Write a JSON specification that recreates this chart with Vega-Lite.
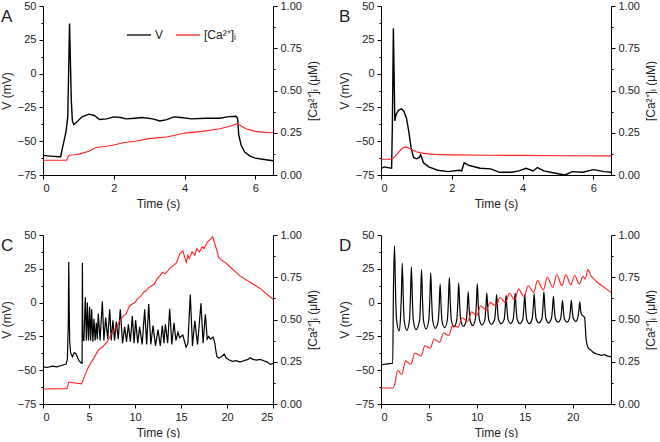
{
"$schema":"https://vega.github.io/schema/vega-lite/v6.json",
"padding":{"left":0,"top":0,"right":0,"bottom":0},
"background":"white",
"bounds":"flush",
"columns":2,
"spacing":{"row":60,"column":108},
"config":{
 "font":"Liberation Sans",
 "view":{"stroke":null},
 "axis":{"grid":false,"domainColor":"black","tickColor":"black","domainWidth":1,"tickWidth":1,"labelFont":"Liberation Sans","labelFontSize":11,"labelColor":"#222","titleFont":"Liberation Sans","titleFontSize":12,"titleFontWeight":"normal","titleColor":"#222","labelPadding":3},
 "axisLeft":{"titlePadding":4},
 "axisRight":{"titlePadding":6},
 "axisBottom":{"titlePadding":5},
 "title":{"font":"Liberation Sans","fontSize":17,"fontWeight":"normal","color":"#222","anchor":"start","frame":"group"}
},
"datasets":{
"A_V":[{"t":0,"v":-60.5},{"t":0.2,"v":-61},{"t":0.45,"v":-61.5},{"t":0.5,"v":-61.5},{"t":0.55,"v":-55},{"t":0.6,"v":-49},{"t":0.65,"v":-43},{"t":0.7,"v":-32},{"t":0.72,"v":-5},{"t":0.75,"v":37},{"t":0.77,"v":15},{"t":0.8,"v":-20},{"t":0.83,"v":-35},{"t":0.87,"v":-37.5},{"t":0.95,"v":-36},{"t":1.1,"v":-32},{"t":1.3,"v":-30},{"t":1.45,"v":-31},{"t":1.6,"v":-34},{"t":1.8,"v":-33.5},{"t":2.0,"v":-32},{"t":2.2,"v":-32.5},{"t":2.35,"v":-33.5},{"t":2.6,"v":-33},{"t":2.8,"v":-32.5},{"t":3.1,"v":-33.5},{"t":3.3,"v":-35},{"t":3.5,"v":-34},{"t":3.7,"v":-32},{"t":3.9,"v":-32.5},{"t":4.2,"v":-33.5},{"t":4.6,"v":-33},{"t":5.0,"v":-33},{"t":5.2,"v":-32},{"t":5.45,"v":-31.5},{"t":5.5,"v":-33},{"t":5.53,"v":-45},{"t":5.6,"v":-53},{"t":5.7,"v":-58},{"t":5.85,"v":-61},{"t":6.0,"v":-62.5},{"t":6.25,"v":-63.5},{"t":6.5,"v":-64.5}],
"A_Ca":[{"t":0,"ca":0.087},{"t":0.67,"ca":0.087},{"t":0.7,"ca":0.105},{"t":0.75,"ca":0.118},{"t":0.9,"ca":0.12},{"t":1.05,"ca":0.125},{"t":1.3,"ca":0.14},{"t":1.5,"ca":0.163},{"t":1.8,"ca":0.17},{"t":2.0,"ca":0.178},{"t":2.3,"ca":0.192},{"t":2.6,"ca":0.2},{"t":3.0,"ca":0.215},{"t":3.5,"ca":0.225},{"t":3.8,"ca":0.238},{"t":4.0,"ca":0.248},{"t":4.5,"ca":0.258},{"t":5.0,"ca":0.274},{"t":5.3,"ca":0.29},{"t":5.5,"ca":0.304},{"t":5.6,"ca":0.29},{"t":5.75,"ca":0.272},{"t":6.0,"ca":0.258},{"t":6.25,"ca":0.252},{"t":6.5,"ca":0.25}],
"B_V":[{"t":0,"v":-70},{"t":0.1,"v":-69},{"t":0.2,"v":-69.5},{"t":0.3,"v":-70},{"t":0.32,"v":-40},{"t":0.35,"v":33.5},{"t":0.37,"v":0},{"t":0.39,"v":-35},{"t":0.43,"v":-30},{"t":0.5,"v":-27},{"t":0.58,"v":-26},{"t":0.65,"v":-28},{"t":0.72,"v":-33},{"t":0.78,"v":-42},{"t":0.85,"v":-55},{"t":0.92,"v":-62},{"t":1.0,"v":-63},{"t":1.08,"v":-62},{"t":1.12,"v":-60},{"t":1.2,"v":-66},{"t":1.35,"v":-69},{"t":1.6,"v":-71.5},{"t":1.9,"v":-72.5},{"t":2.2,"v":-71.5},{"t":2.28,"v":-72},{"t":2.35,"v":-66},{"t":2.5,"v":-68},{"t":2.8,"v":-70},{"t":3.1,"v":-70.5},{"t":3.35,"v":-73},{"t":3.7,"v":-73},{"t":3.9,"v":-72},{"t":4.1,"v":-70},{"t":4.3,"v":-72},{"t":4.42,"v":-69.5},{"t":4.6,"v":-72},{"t":4.9,"v":-73.5},{"t":5.2,"v":-75},{"t":5.4,"v":-72.5},{"t":5.7,"v":-73},{"t":6.0,"v":-71},{"t":6.3,"v":-72.5},{"t":6.5,"v":-73}],
"B_Ca":[{"t":0,"ca":0.093},{"t":0.3,"ca":0.093},{"t":0.4,"ca":0.11},{"t":0.5,"ca":0.135},{"t":0.6,"ca":0.158},{"t":0.7,"ca":0.166},{"t":0.8,"ca":0.158},{"t":0.9,"ca":0.146},{"t":1.0,"ca":0.138},{"t":1.2,"ca":0.128},{"t":1.5,"ca":0.122},{"t":2.0,"ca":0.119},{"t":3.0,"ca":0.117},{"t":4.0,"ca":0.116},{"t":5.0,"ca":0.114},{"t":6.5,"ca":0.113}],
"C_V":[{"t":0,"v":-47.5},{"t":0.5,"v":-48},{"t":1.0,"v":-47},{"t":1.5,"v":-47.5},{"t":2.0,"v":-46.5},{"t":2.5,"v":-45.5},{"t":2.65,"v":-42},{"t":2.75,"v":-15},{"t":2.8,"v":30},{"t":2.85,"v":-5},{"t":2.9,"v":-28},{"t":3.0,"v":-37},{"t":3.2,"v":-40},{"t":3.4,"v":-37},{"t":3.6,"v":-38},{"t":3.9,"v":-43},{"t":4.2,"v":-45},{"t":4.25,"v":-45},{"t":4.28,"v":29.5},{"t":4.33,"v":-28},{"t":4.45,"v":-28},{"t":4.6,"v":4},{"t":4.72,"v":-28},{"t":4.82,"v":0},{"t":4.95,"v":-28},{"t":5.07,"v":-3},{"t":5.18,"v":-28},{"t":5.29,"v":-5},{"t":5.42,"v":-29},{"t":5.54,"v":-12},{"t":5.67,"v":-28},{"t":5.8,"v":-15},{"t":5.9,"v":-27},{"t":6.01,"v":-8},{"t":6.2,"v":-28},{"t":6.45,"v":1},{"t":6.62,"v":-28},{"t":6.81,"v":-11},{"t":7.03,"v":-27},{"t":7.25,"v":-5},{"t":7.42,"v":-28},{"t":7.6,"v":-13},{"t":7.78,"v":-28},{"t":7.97,"v":-14},{"t":8.18,"v":-27},{"t":8.4,"v":-5},{"t":8.65,"v":-30},{"t":8.88,"v":-18},{"t":9.08,"v":-29},{"t":9.28,"v":-16},{"t":9.5,"v":-29},{"t":9.71,"v":-10},{"t":9.9,"v":-30},{"t":10.07,"v":-13},{"t":10.3,"v":-30},{"t":10.5,"v":-18},{"t":10.78,"v":-31},{"t":11.05,"v":-5},{"t":11.27,"v":-31},{"t":11.49,"v":-1},{"t":11.72,"v":-31},{"t":11.96,"v":-17},{"t":12.23,"v":-32},{"t":12.5,"v":-20},{"t":12.75,"v":-32},{"t":12.97,"v":-17},{"t":13.15,"v":-30},{"t":13.3,"v":-16},{"t":13.55,"v":-30},{"t":13.77,"v":-4.5},{"t":14.0,"v":-31},{"t":14.24,"v":-15},{"t":14.45,"v":-28},{"t":14.67,"v":-22},{"t":14.85,"v":-26},{"t":15.0,"v":-25},{"t":15.2,"v":-24},{"t":15.35,"v":-28},{"t":15.55,"v":-33},{"t":15.75,"v":-30},{"t":16.01,"v":6},{"t":16.25,"v":-32},{"t":16.5,"v":-13.5},{"t":16.8,"v":-31},{"t":17.17,"v":-0.5},{"t":17.4,"v":-30},{"t":17.65,"v":-8.6},{"t":17.85,"v":-27},{"t":18.0,"v":-25},{"t":18.2,"v":-27},{"t":18.48,"v":-25.5},{"t":18.65,"v":-29},{"t":18.77,"v":-34.6},{"t":18.9,"v":-40},{"t":19.1,"v":-41},{"t":19.4,"v":-40},{"t":19.7,"v":-38},{"t":19.9,"v":-41},{"t":20.25,"v":-42.5},{"t":20.6,"v":-43.5},{"t":21.0,"v":-43},{"t":21.4,"v":-44},{"t":21.8,"v":-43},{"t":22.3,"v":-42},{"t":22.5,"v":-40.8},{"t":22.8,"v":-42},{"t":23.2,"v":-42.5},{"t":23.6,"v":-42},{"t":24.0,"v":-43},{"t":24.4,"v":-44},{"t":24.7,"v":-45.7},{"t":25,"v":-45}],
"C_Ca":[{"t":0,"ca":0.089},{"t":2.6,"ca":0.091},{"t":2.8,"ca":0.13},{"t":3.0,"ca":0.128},{"t":3.5,"ca":0.124},{"t":4.2,"ca":0.119},{"t":4.4,"ca":0.15},{"t":4.7,"ca":0.19},{"t":5.0,"ca":0.225},{"t":5.5,"ca":0.27},{"t":6.0,"ca":0.317},{"t":6.5,"ca":0.34},{"t":7.0,"ca":0.37},{"t":7.6,"ca":0.43},{"t":8.0,"ca":0.45},{"t":8.3,"ca":0.49},{"t":8.7,"ca":0.52},{"t":9.0,"ca":0.53},{"t":9.4,"ca":0.58},{"t":9.8,"ca":0.595},{"t":10.0,"ca":0.6},{"t":10.3,"ca":0.625},{"t":10.6,"ca":0.635},{"t":10.9,"ca":0.66},{"t":11.2,"ca":0.67},{"t":11.5,"ca":0.69},{"t":11.8,"ca":0.7},{"t":12.1,"ca":0.71},{"t":12.4,"ca":0.74},{"t":12.7,"ca":0.758},{"t":13.0,"ca":0.78},{"t":13.3,"ca":0.77},{"t":13.6,"ca":0.79},{"t":13.9,"ca":0.81},{"t":14.2,"ca":0.82},{"t":14.5,"ca":0.835},{"t":14.86,"ca":0.887},{"t":15.2,"ca":0.907},{"t":15.57,"ca":0.838},{"t":15.75,"ca":0.88},{"t":15.9,"ca":0.86},{"t":16.2,"ca":0.9},{"t":16.5,"ca":0.88},{"t":16.7,"ca":0.92},{"t":17.0,"ca":0.9},{"t":17.3,"ca":0.93},{"t":17.5,"ca":0.92},{"t":17.9,"ca":0.96},{"t":18.3,"ca":0.98},{"t":18.45,"ca":0.99},{"t":18.6,"ca":0.96},{"t":18.85,"ca":0.917},{"t":19.1,"ca":0.867},{"t":19.4,"ca":0.85},{"t":19.8,"ca":0.838},{"t":20.2,"ca":0.818},{"t":21.4,"ca":0.758},{"t":22.5,"ca":0.72},{"t":23.7,"ca":0.68},{"t":25,"ca":0.62}],
"D_V":[{"t":0,"v":-46},{"t":0.5,"v":-45.5},{"t":1.1,"v":-45},{"t":1.22,"v":-45},{"t":1.3,"v":10},{"t":1.41,"v":42},{"t":1.51,"v":10.5},{"t":1.61,"v":-11.5},{"t":1.89,"v":-21},{"t":2.02,"v":-13.1},{"t":2.12,"v":4.25},{"t":2.22,"v":29},{"t":2.32,"v":4.25},{"t":2.42,"v":-13.1},{"t":2.7,"v":-20.5},{"t":2.97,"v":-13},{"t":3.07,"v":3.25},{"t":3.17,"v":26.5},{"t":3.27,"v":3.25},{"t":3.37,"v":-13},{"t":3.65,"v":-20},{"t":4.03,"v":-12.9},{"t":4.13,"v":2.5},{"t":4.23,"v":24.5},{"t":4.33,"v":2.5},{"t":4.43,"v":-12.9},{"t":4.71,"v":-19.5},{"t":4.99,"v":-12.85},{"t":5.09,"v":1.5},{"t":5.19,"v":22},{"t":5.29,"v":1.5},{"t":5.39,"v":-12.85},{"t":5.67,"v":-19},{"t":5.97,"v":-13.7},{"t":6.07,"v":-2.45},{"t":6.17,"v":13.6},{"t":6.27,"v":-2.45},{"t":6.37,"v":-13.7},{"t":6.65,"v":-18.5},{"t":6.93,"v":-12.5},{"t":7.03,"v":0.3},{"t":7.13,"v":18.6},{"t":7.23,"v":0.3},{"t":7.33,"v":-12.5},{"t":7.61,"v":-18},{"t":7.91,"v":-12.7},{"t":8.01,"v":-1.45},{"t":8.11,"v":14.6},{"t":8.21,"v":-1.45},{"t":8.31,"v":-12.7},{"t":8.59,"v":-17.5},{"t":8.9,"v":-13.25},{"t":9.0,"v":-4.5},{"t":9.1,"v":8},{"t":9.2,"v":-4.5},{"t":9.3,"v":-13.25},{"t":9.58,"v":-17},{"t":9.85,"v":-11.9},{"t":9.95,"v":-1.25},{"t":10.05,"v":14},{"t":10.15,"v":-1.25},{"t":10.25,"v":-11.9},{"t":10.53,"v":-16.5},{"t":10.84,"v":-12.55},{"t":10.94,"v":-4.5},{"t":11.04,"v":7},{"t":11.14,"v":-4.5},{"t":11.24,"v":-12.55},{"t":11.52,"v":-16},{"t":11.86,"v":-12.3},{"t":11.96,"v":-4.75},{"t":12.06,"v":6},{"t":12.16,"v":-4.75},{"t":12.26,"v":-12.3},{"t":12.54,"v":-15.5},{"t":12.85,"v":-12.4},{"t":12.95,"v":-5.05},{"t":13.05,"v":5.4},{"t":13.15,"v":-5.05},{"t":13.25,"v":-12.4},{"t":13.53,"v":-15.5},{"t":13.8,"v":-12.1},{"t":13.9,"v":-4.25},{"t":14.0,"v":7},{"t":14.1,"v":-4.25},{"t":14.2,"v":-12.1},{"t":14.48,"v":-15.5},{"t":14.8,"v":-12.3},{"t":14.9,"v":-4.75},{"t":15.0,"v":6},{"t":15.1,"v":-4.75},{"t":15.2,"v":-12.3},{"t":15.48,"v":-15.5},{"t":15.78,"v":-11.75},{"t":15.88,"v":-4.15},{"t":15.98,"v":6.7},{"t":16.08,"v":-4.15},{"t":16.18,"v":-11.75},{"t":16.46,"v":-15},{"t":16.8,"v":-11.55},{"t":16.9,"v":-3.5},{"t":17.0,"v":8},{"t":17.1,"v":-3.5},{"t":17.2,"v":-11.55},{"t":17.48,"v":-15},{"t":17.79,"v":-11.6},{"t":17.89,"v":-4.9},{"t":17.99,"v":4.7},{"t":18.09,"v":-4.9},{"t":18.19,"v":-11.6},{"t":18.47,"v":-14.5},{"t":18.74,"v":-12.1},{"t":18.84,"v":-6.4},{"t":18.94,"v":1.7},{"t":19.04,"v":-6.4},{"t":19.14,"v":-12.1},{"t":19.42,"v":-14.5},{"t":19.66,"v":-11.65},{"t":19.76,"v":-6.15},{"t":19.86,"v":1.7},{"t":19.96,"v":-6.15},{"t":20.06,"v":-11.65},{"t":20.34,"v":-14},{"t":20.54,"v":-11},{"t":20.64,"v":-6.25},{"t":20.74,"v":0.5},{"t":20.84,"v":-6.25},{"t":20.94,"v":-9},{"t":21.1,"v":-10},{"t":21.25,"v":-11},{"t":21.32,"v":-18},{"t":21.42,"v":-28},{"t":21.6,"v":-33},{"t":21.85,"v":-35},{"t":22.1,"v":-36.5},{"t":22.5,"v":-38},{"t":22.8,"v":-38.5},{"t":23.0,"v":-39},{"t":23.3,"v":-38.5},{"t":23.6,"v":-39.5},{"t":24.0,"v":-40}],
"D_Ca":[{"t":0,"ca":0.095},{"t":1.2,"ca":0.095},{"t":1.4,"ca":0.11},{"t":1.75,"ca":0.2},{"t":2.17,"ca":0.175},{"t":2.57,"ca":0.255},{"t":3.12,"ca":0.235},{"t":3.52,"ca":0.3},{"t":4.18,"ca":0.285},{"t":4.58,"ca":0.345},{"t":5.14,"ca":0.33},{"t":5.54,"ca":0.385},{"t":6.12,"ca":0.365},{"t":6.52,"ca":0.42},{"t":7.08,"ca":0.405},{"t":7.48,"ca":0.465},{"t":8.06,"ca":0.455},{"t":8.46,"ca":0.51},{"t":9.05,"ca":0.49},{"t":9.45,"ca":0.545},{"t":10.0,"ca":0.525},{"t":10.4,"ca":0.58},{"t":10.99,"ca":0.555},{"t":11.39,"ca":0.6},{"t":12.01,"ca":0.58},{"t":12.41,"ca":0.63},{"t":13.0,"ca":0.6},{"t":13.4,"ca":0.655},{"t":13.95,"ca":0.615},{"t":14.35,"ca":0.68},{"t":14.95,"ca":0.635},{"t":15.35,"ca":0.7},{"t":15.93,"ca":0.66},{"t":16.33,"ca":0.73},{"t":16.95,"ca":0.675},{"t":17.35,"ca":0.75},{"t":17.94,"ca":0.69},{"t":18.34,"ca":0.765},{"t":18.89,"ca":0.7},{"t":19.29,"ca":0.765},{"t":19.81,"ca":0.705},{"t":20.21,"ca":0.76},{"t":20.69,"ca":0.71},{"t":21.09,"ca":0.755},{"t":21.3,"ca":0.74},{"t":21.6,"ca":0.795},{"t":21.9,"ca":0.76},{"t":22.3,"ca":0.735},{"t":22.8,"ca":0.71},{"t":23.3,"ca":0.69},{"t":24.0,"ca":0.66}]
},
"concat":[
 {"width":230,"height":169,"title":{"text":"A","dx":-42,"dy":30},
  "layer":[
   {"data":{"name":"A_V"},"mark":{"type":"line","strokeWidth":1.4},
    "encoding":{"x":{"field":"t","type":"quantitative","scale":{"domain":[0,6.5],"nice":false},"axis":{"values":[0,0.5,1,1.5,2,2.5,3,3.5,4,4.5,5,5.5,6,6.5],"labelExpr":"datum.value % 1 === 0 ? datum.label : ''","tickSize":{"condition":{"test":"datum.value % 1 === 0","value":4},"value":2},"title":"Time (s)"}},
     "y":{"field":"v","type":"quantitative","scale":{"domain":[-75,50],"nice":false},"axis":{"values":[-75,-62.5,-50,-37.5,-25,-12.5,0,12.5,25,37.5,50],"labelExpr":"datum.value % 25 === 0 ? datum.label : ''","tickSize":{"condition":{"test":"datum.value % 25 === 0","value":4},"value":2},"title":"V (mV)"}},
     "color":{"datum":"V","type":"nominal","scale":{"domain":["V","[Ca²⁺]ᵢ"],"range":["black","#ff2020"]},"legend":{"orient":"none","legendX":83,"legendY":16,"direction":"horizontal","title":null,"symbolType":"stroke","symbolSize":576,"symbolStrokeWidth":1.3,"labelFontSize":12,"labelFont":"Liberation Sans","labelColor":"#222","columnPadding":9,"labelOffset":3}}}},
   {"data":{"name":"A_Ca"},"mark":{"type":"line","strokeWidth":1.1},
    "encoding":{"x":{"field":"t","type":"quantitative"},
     "y":{"field":"ca","type":"quantitative","scale":{"domain":[0,1],"nice":false},"axis":{"orient":"right","values":[0,0.125,0.25,0.375,0.5,0.625,0.75,0.875,1],"format":".2f","labelExpr":"(datum.value*4) % 1 === 0 ? datum.label : ''","tickSize":{"condition":{"test":"(datum.value*4) % 1 === 0","value":4},"value":2},"title":"[Ca²⁺]ᵢ (μM)","titleAngle":-90,"titleBaseline":"top"}},
     "color":{"datum":"[Ca²⁺]ᵢ","type":"nominal"}}}
  ],
  "resolve":{"scale":{"y":"independent"}}},
 {"width":230,"height":169,"title":{"text":"B","dx":-42,"dy":30},
  "layer":[
   {"data":{"name":"B_V"},"mark":{"type":"line","strokeWidth":1.4,"color":"black"},
    "encoding":{"x":{"field":"t","type":"quantitative","scale":{"domain":[0,6.5],"nice":false},"axis":{"values":[0,0.5,1,1.5,2,2.5,3,3.5,4,4.5,5,5.5,6,6.5],"labelExpr":"datum.value % 1 === 0 ? datum.label : ''","tickSize":{"condition":{"test":"datum.value % 1 === 0","value":4},"value":2},"title":"Time (s)"}},
     "y":{"field":"v","type":"quantitative","scale":{"domain":[-75,50],"nice":false},"axis":{"values":[-75,-62.5,-50,-37.5,-25,-12.5,0,12.5,25,37.5,50],"labelExpr":"datum.value % 25 === 0 ? datum.label : ''","tickSize":{"condition":{"test":"datum.value % 25 === 0","value":4},"value":2},"title":"V (mV)"}}}},
   {"data":{"name":"B_Ca"},"mark":{"type":"line","strokeWidth":1.1,"color":"#ff2020"},
    "encoding":{"x":{"field":"t","type":"quantitative"},
     "y":{"field":"ca","type":"quantitative","scale":{"domain":[0,1],"nice":false},"axis":{"orient":"right","values":[0,0.125,0.25,0.375,0.5,0.625,0.75,0.875,1],"format":".2f","labelExpr":"(datum.value*4) % 1 === 0 ? datum.label : ''","tickSize":{"condition":{"test":"(datum.value*4) % 1 === 0","value":4},"value":2},"title":"[Ca²⁺]ᵢ (μM)","titleAngle":-90,"titleBaseline":"top"}}}}
  ],
  "resolve":{"scale":{"y":"independent"}}},
 {"width":230,"height":169,"title":{"text":"C","dx":-42,"dy":30},
  "layer":[
   {"data":{"name":"C_V"},"mark":{"type":"line","strokeWidth":1.2,"color":"black"},
    "encoding":{"x":{"field":"t","type":"quantitative","scale":{"domain":[0,25],"nice":false},"axis":{"values":[0,2.5,5,7.5,10,12.5,15,17.5,20,22.5,25],"labelExpr":"datum.value % 5 === 0 ? datum.label : ''","tickSize":{"condition":{"test":"datum.value % 5 === 0","value":4},"value":2},"title":"Time (s)"}},
     "y":{"field":"v","type":"quantitative","scale":{"domain":[-75,50],"nice":false},"axis":{"values":[-75,-62.5,-50,-37.5,-25,-12.5,0,12.5,25,37.5,50],"labelExpr":"datum.value % 25 === 0 ? datum.label : ''","tickSize":{"condition":{"test":"datum.value % 25 === 0","value":4},"value":2},"title":"V (mV)"}}}},
   {"data":{"name":"C_Ca"},"mark":{"type":"line","strokeWidth":1.1,"color":"#ff2020"},
    "encoding":{"x":{"field":"t","type":"quantitative"},
     "y":{"field":"ca","type":"quantitative","scale":{"domain":[0,1],"nice":false},"axis":{"orient":"right","values":[0,0.125,0.25,0.375,0.5,0.625,0.75,0.875,1],"format":".2f","labelExpr":"(datum.value*4) % 1 === 0 ? datum.label : ''","tickSize":{"condition":{"test":"(datum.value*4) % 1 === 0","value":4},"value":2},"title":"[Ca²⁺]ᵢ (μM)","titleAngle":-90,"titleBaseline":"top"}}}}
  ],
  "resolve":{"scale":{"y":"independent"}}},
 {"width":230,"height":169,"title":{"text":"D","dx":-42,"dy":30},
  "layer":[
   {"data":{"name":"D_V"},"mark":{"type":"line","strokeWidth":1.2,"color":"black","interpolate":"monotone"},
    "encoding":{"x":{"field":"t","type":"quantitative","scale":{"domain":[0,24],"nice":false},"axis":{"values":[0,2.5,5,7.5,10,12.5,15,17.5,20,22.5],"labelExpr":"datum.value % 5 === 0 ? datum.label : ''","tickSize":{"condition":{"test":"datum.value % 5 === 0","value":4},"value":2},"title":"Time (s)"}},
     "y":{"field":"v","type":"quantitative","scale":{"domain":[-75,50],"nice":false},"axis":{"values":[-75,-62.5,-50,-37.5,-25,-12.5,0,12.5,25,37.5,50],"labelExpr":"datum.value % 25 === 0 ? datum.label : ''","tickSize":{"condition":{"test":"datum.value % 25 === 0","value":4},"value":2},"title":"V (mV)"}}}},
   {"data":{"name":"D_Ca"},"mark":{"type":"line","strokeWidth":1.1,"color":"#ff2020","interpolate":"monotone"},
    "encoding":{"x":{"field":"t","type":"quantitative"},
     "y":{"field":"ca","type":"quantitative","scale":{"domain":[0,1],"nice":false},"axis":{"orient":"right","values":[0,0.125,0.25,0.375,0.5,0.625,0.75,0.875,1],"format":".2f","labelExpr":"(datum.value*4) % 1 === 0 ? datum.label : ''","tickSize":{"condition":{"test":"(datum.value*4) % 1 === 0","value":4},"value":2},"title":"[Ca²⁺]ᵢ (μM)","titleAngle":-90,"titleBaseline":"top"}}}}
  ],
  "resolve":{"scale":{"y":"independent"}}}
]
}
